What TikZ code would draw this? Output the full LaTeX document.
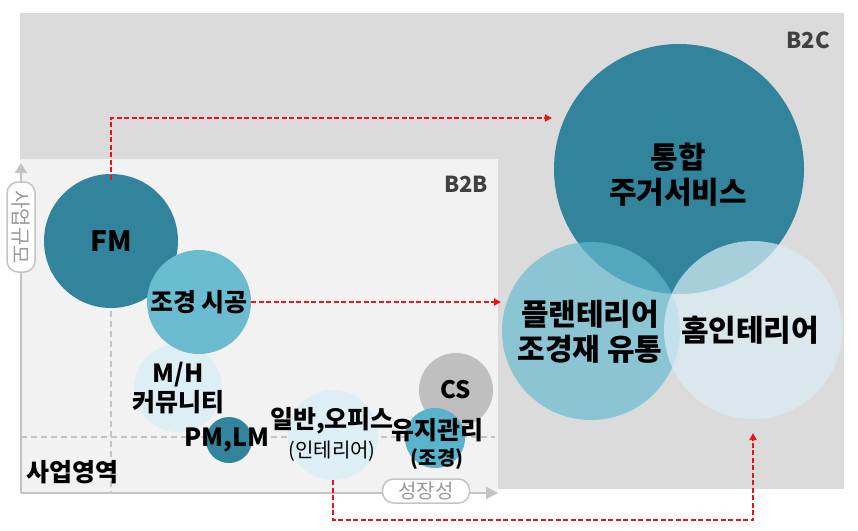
\documentclass[tikz,border=0pt]{standalone}
\usepackage{fontspec}
\setmainfont{Noto Sans CJK KR}
\usepackage{xcolor}
\usetikzlibrary{arrows.meta}
\definecolor{dkteal}{HTML}{31849B}
\definecolor{midteal}{HTML}{6CBCD1}
\definecolor{yjteal}{HTML}{58B3CB}
\definecolor{ltteal}{HTML}{DDEFF5}
\definecolor{plteal}{HTML}{66BAD0}
\definecolor{hmteal}{HTML}{DAEEF7}
\definecolor{csgray}{HTML}{BFBFBF}
\definecolor{axgray}{HTML}{C4C4C4}
\definecolor{txgray}{HTML}{9A9A9A}
\definecolor{bcgray}{HTML}{DBDBDB}
\definecolor{bbgray}{HTML}{F2F2F2}
\definecolor{tagtxt}{HTML}{404040}
\definecolor{arrred}{HTML}{E8161B}

\begin{document}
\begin{tikzpicture}
  [x=1pt,y=-1pt,
   ball/.style={circle,inner sep=0pt,minimum size=#1},
   lbl/.style={font=\bfseries\fontsize{25}{29}\selectfont,align=center,inner sep=0pt},
   big/.style={font=\bfseries\fontsize{30}{35}\selectfont,align=center,inner sep=0pt},
   tag/.style={font=\bfseries\fontsize{22}{24}\selectfont,text=tagtxt,inner sep=0pt},
   axlbl/.style={draw=axgray,fill=white,line width=1.5pt,rounded corners=11pt,
     text=txgray,font=\fontsize{20}{22}\selectfont,inner sep=0pt},
   axis/.style={draw=axgray,line width=2pt},
   guide/.style={draw=axgray,line width=1.5pt,dash pattern=on 6pt off 4pt},
   flow/.style={draw=arrred,line width=2pt,dash pattern=on 5pt off 2.5pt,
     -{Triangle[length=7pt,width=7pt]}}]
  \useasboundingbox (0,0) rectangle (858,530);

  % panels
  \fill[bcgray] (20,13) rectangle (844,489);
  \fill[bbgray] (20,159) rectangle (498,493);
  \node[tag] (b2c) at (808,40) {B2C};
  \node[tag] (b2b) at (466,184) {B2B};

  % axes
  \coordinate (o) at (21,493);
  \coordinate (ytip) at (21,163);
  \coordinate (xtip) at (498,493);
  \coordinate (cfm) at (111,241);
  \coordinate (hl) at (21,437);
  \draw[guide] (cfm) -- (cfm |- o);
  \draw[guide] (hl) -- ([xshift=-3pt]hl -| xtip);
  \draw[axis,-{Triangle[length=10pt,width=12pt]}] (o) -- (ytip);
  \draw[axis,-{Triangle[length=12pt,width=12pt]}] (o) -- (xtip);
  \node[axlbl,rotate=-90,minimum width=90pt,minimum height=28pt] (ylab) at (21,227) {사업규모};
  \node[axlbl,minimum width=87pt,minimum height=24pt] (xlab) at (426,491) {성장성};
  \node[lbl] (area) at (72,472) {사업영역};

  % B2B circles
  \node[ball=134pt,fill=dkteal] (fm) at (cfm) {};
  \node[ball=88pt,fill=ltteal] (mh) at (178,388) {};
  \node[ball=104pt,fill=midteal] (js) at (199,302) {};
  \node[ball=46pt,fill=dkteal] (pm) at (229,440) {};
  \node[ball=90pt,fill=ltteal] (ilban) at (333,435) {};
  \node[ball=74pt,fill=csgray] (cs) at (456,390) {};
  \node[ball=60pt,fill=yjteal] (yj) at (435,438) {};

  % B2C circles
  \node[ball=250pt,fill=dkteal] (th) at (679,169) {};
  \node[ball=178pt,fill=plteal,fill opacity=.68] (pl) at (591,331) {};
  \node[ball=178pt,fill=hmteal,fill opacity=.7] (hm) at (753,330) {};

  % labels
  \node[lbl,font=\bfseries\fontsize{28}{30}\selectfont] (t-fm) at (fm) {FM};
  \node[lbl] (t-js) at (js) {조경 시공};
  \node[lbl] (t-mh) at (178,388) {M/H\\커뮤니티};
  \node[lbl] (t-pm) at (227,440) {PM,LM};
  \node[lbl] (t-ilban) at (332,434) {일반,오피스\\{\mdseries\fontsize{20}{22}\selectfont (인테리어)}};
  \node[lbl,font=\bfseries\fontsize{24}{26}\selectfont] (t-cs) at (cs) {CS};
  \node[lbl,font=\bfseries\fontsize{25}{26}\selectfont] (t-yj) at (437,444) {유지관리\\{\fontsize{20}{22}\selectfont (조경)}};
  \node[big] (t-th) at (678,175) {통합\\주거서비스};
  \node[big] (t-pl) at (590,332) {플랜테리어\\조경재 유통};
  \node[big] (t-hm) at (750,330) {홈인테리어};

  % flows
  \coordinate (a1) at (552,118);
  \coordinate (a2) at (501,302);
  \coordinate (a3) at (753,433);
  \draw[flow] ([yshift=-6pt]fm.north) |- (a1);
  \draw[flow] (js.east) -- (a2);
  \draw[flow] (ilban.south) -- ++(0,40) -| (a3);

\end{tikzpicture}
\end{document}
